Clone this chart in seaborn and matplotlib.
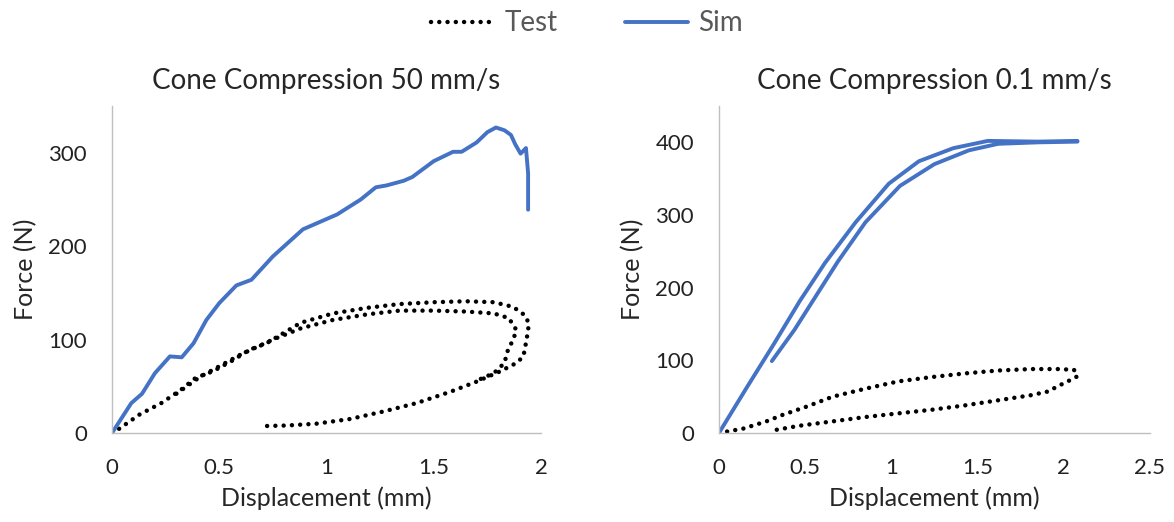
import pandas as pd
import numpy as np
import matplotlib.pyplot as plt
import seaborn as sns
from matplotlib.lines import Line2D

# Left panel: 50 mm/s
sim50_x = [0, 0.09, 0.14, 0.20, 0.27, 0.325, 0.38, 0.44, 0.50, 0.58, 0.65, 0.75, 0.89, 1.05,
           1.16, 1.23, 1.28, 1.36, 1.40, 1.50, 1.59, 1.63, 1.70, 1.75, 1.79, 1.83, 1.86,
           1.88, 1.905, 1.93, 1.94, 1.94]
sim50_y = [0, 32, 42, 64, 82, 81, 96, 121, 139, 158, 164, 189, 218, 234,
           250, 263, 265, 270, 274, 291, 301, 301, 311, 322, 327, 324, 319,
           309, 299, 305, 278, 239]

# test loop (outer path: loading, then unloading back along the bottom)
test50a_x = [0, 0.03, 0.13, 0.23, 0.32, 0.39, 0.47, 0.565, 0.64, 0.72, 0.80, 0.88, 0.955, 1.03,
             1.19, 1.34, 1.50, 1.65, 1.78, 1.87, 1.925, 1.944, 1.933, 1.918, 1.886, 1.81,
             1.70, 1.576, 1.42, 1.265, 1.11, 0.954, 0.814, 0.72]
test50a_y = [0, 4, 20, 32, 46, 59, 66, 78, 89, 96, 107, 118, 123, 128,
             134, 138, 140, 141, 140, 135, 126, 117, 100, 82, 75, 66,
             55, 44, 32, 23, 15, 10, 8, 7.5]
# second (inner) loading path
test50b_x = [0.30, 0.41, 0.60, 0.75, 0.88, 1.03, 1.19, 1.34, 1.50, 1.65, 1.78, 1.85, 1.886,
             1.87, 1.843, 1.83, 1.78, 1.70]
test50b_y = [42, 60, 84, 100, 112, 121, 127, 131, 131, 130, 128, 123, 110,
             100, 87, 75, 64, 56]

# Right panel: 0.1 mm/s
sim01a_x = [0, 0.165, 0.32, 0.47, 0.615, 0.793, 0.985, 1.16, 1.36, 1.56, 1.85, 2.08]
sim01a_y = [0, 64, 123, 182, 234, 290, 343, 374, 392, 402, 401, 402]
sim01b_x = [2.08, 1.85, 1.62, 1.45, 1.25, 1.05, 0.85, 0.69, 0.572, 0.438, 0.307]
sim01b_y = [401, 400, 398, 389, 370, 340, 290, 236, 192, 142, 99]

test01_x = [0, 0.14, 0.275, 0.37, 0.505, 0.66, 0.85, 1.04, 1.235, 1.427, 1.62, 1.81, 1.964,
            2.06, 2.08, 2.04, 1.98, 1.907, 1.81, 1.62, 1.427, 1.235, 1.04, 0.85, 0.66,
            0.467, 0.30]
test01_y = [0, 6, 16, 25, 36, 50, 61, 71, 77, 82, 86, 88, 88,
            87, 78, 73, 66, 57, 52, 45, 38, 32, 27, 22, 16,
            10, 3]


def make_df(xs, ys, seg):
    return pd.DataFrame({'x': xs, 'y': ys, 'seg': seg})


left_test = pd.concat([make_df(test50a_x, test50a_y, 0), make_df(test50b_x, test50b_y, 1)])
left_sim = make_df(sim50_x, sim50_y, 0)
right_test = make_df(test01_x, test01_y, 0)
right_sim = pd.concat([make_df(sim01a_x, sim01a_y, 0), make_df(sim01b_x, sim01b_y, 1)])

sns.set_style('white')
plt.rcParams['font.family'] = ['Lato', 'DejaVu Sans']

blue = '#4472C4'
dot_style = dict(color='black', linewidth=3.2, linestyle=(0, (0.01, 1.85)),
                 dash_capstyle='round')
sim_style = dict(color=blue, linewidth=2.8, solid_capstyle='round', solid_joinstyle='round')

fig = plt.figure(figsize=(11.74, 5.22), dpi=100)
ax1 = fig.add_axes([0.0954, 0.1705, 0.3654, 0.6264])
ax2 = fig.add_axes([0.6124, 0.1705, 0.3670, 0.6264])

panels = [
    (ax1, left_test, left_sim, 'Cone Compression 50 mm/s', (0, 2), [0, 0.5, 1, 1.5, 2],
     ['0', '0.5', '1', '1.5', '2'], (0, 350), [0, 100, 200, 300]),
    (ax2, right_test, right_sim, 'Cone Compression 0.1 mm/s', (0, 2.5), [0, 0.5, 1, 1.5, 2, 2.5],
     ['0', '0.5', '1', '1.5', '2', '2.5'], (0, 450), [0, 100, 200, 300, 400]),
]

for ax, dtest, dsim, title, xlim, xt, xtl, ylim, yt in panels:
    sns.lineplot(data=dtest, x='x', y='y', units='seg', estimator=None, sort=False,
                 ax=ax, legend=False, **dot_style)
    sns.lineplot(data=dsim, x='x', y='y', units='seg', estimator=None, sort=False,
                 ax=ax, legend=False, **sim_style)
    ax.set_xlim(*xlim)
    ax.set_ylim(*ylim)
    ax.set_xticks(xt)
    ax.set_xticklabels(xtl)
    ax.set_yticks(yt)
    ax.tick_params(axis='both', length=0, labelsize=16, labelcolor='#222222', pad=18)
    for s in ['top', 'right']:
        ax.spines[s].set_visible(False)
    for s in ['left', 'bottom']:
        ax.spines[s].set_color('#BFBFBF')
        ax.spines[s].set_linewidth(1)
    ax.set_title(title, fontsize=20, pad=12)
    ax.set_xlabel('Displacement (mm)', fontsize=18, labelpad=6)
    ax.set_ylabel('Force (N)', fontsize=18, labelpad=8)

handles = [Line2D([], [], **dot_style), Line2D([], [], **sim_style)]
fig.legend(handles, ['Test', 'Sim'], loc='center', bbox_to_anchor=(0.5, 0.955), ncol=2,
           frameon=False, fontsize=20, labelcolor='#595959', handlelength=2.3,
           columnspacing=2.4, handletextpad=0.35)

fig.savefig('out.png', dpi=100)
